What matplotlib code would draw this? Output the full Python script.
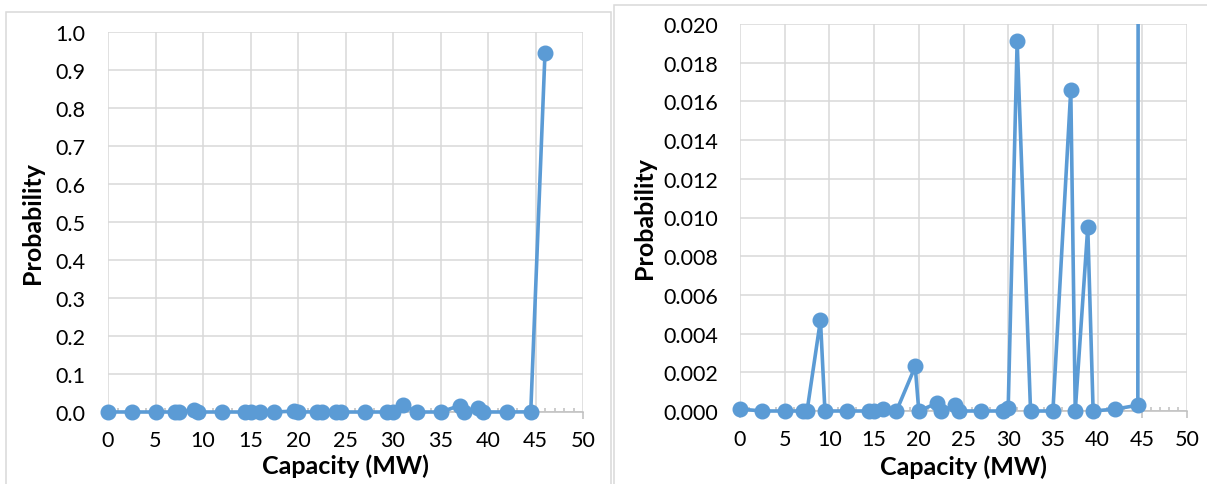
"""Capacity outage probability table, full scale and zoomed."""

import matplotlib

matplotlib.use("Agg")
import matplotlib.pyplot as plt
from matplotlib.patches import Rectangle
from matplotlib.ticker import MultipleLocator, FormatStrFormatter
from matplotlib.transforms import Bbox, TransformedBbox

# capacity states (MW) and their probabilities
capacity = [0, 2.5, 5, 7, 7.5, 9, 9.5, 12, 14.4, 15, 16, 17.5, 19.6, 20, 22, 22.5,
            24, 24.5, 27, 29.4, 30, 31, 32.5, 35, 37, 37.5, 38.9, 39.5, 42, 44.5, 46]
probability = [0.0001, 0.0, 0.0, 0.0, 0.0, 0.0047, 0.0, 0.0, 0.0, 0.0, 0.0001, 0.0,
               0.0023, 0.0, 0.0004, 0.0, 0.0003, 0.0, 0.0, 0.0, 0.00017, 0.0191, 0.0,
               0.0, 0.0166, 0.0, 0.0095, 0.0, 0.0001, 0.0003, 0.9455]

x_ticks = [0, 5, 10, 15, 20, 25, 30, 35, 40, 45, 50]
left_yticks = [0.0, 0.1, 0.2, 0.3, 0.4, 0.5, 0.6, 0.7, 0.8, 0.9, 1.0]
right_yticks = [0.000, 0.002, 0.004, 0.006, 0.008, 0.010, 0.012, 0.014, 0.016, 0.018, 0.020]

BLUE = "#5B9BD5"
GRID = "#D9D9D9"
AXIS = "#BFBFBF"
W, H = 1207, 485

plt.rcParams["font.family"] = ["Lato", "DejaVu Sans"]

fig = plt.figure(figsize=(W / 100, H / 100), dpi=100)


def px_axes(x0, x1, top, bottom):
    return fig.add_axes([x0 / W, (H - bottom) / H, (x1 - x0) / W, (bottom - top) / H])


def style(ax, yticks, fmt, ylabel_x, xlabel_y):
    ax.set_xlim(0, 50)
    ax.set_ylim(yticks[0], yticks[-1])
    ax.set_xticks(x_ticks)
    ax.set_yticks(yticks)
    ax.yaxis.set_major_formatter(FormatStrFormatter(fmt))
    ax.xaxis.set_minor_locator(MultipleLocator(1))
    ax.set_axisbelow(True)
    ax.grid(True, color=GRID, lw=1.1)
    for side in ("top", "right", "left"):
        ax.spines[side].set_visible(False)
    ax.spines["bottom"].set_color(AXIS)
    ax.spines["bottom"].set_linewidth(1.1)
    ax.tick_params(axis="y", length=0, pad=16, labelsize=15.5, labelcolor="black")
    ax.tick_params(axis="x", which="major", direction="out", length=5, width=1.1,
                   color=AXIS, pad=8, labelsize=15.5)
    ax.tick_params(axis="x", which="minor", direction="in", length=3, width=1.1, color=AXIS)
    ax.set_xlabel("Capacity (MW)", fontsize=18, fontweight="bold")
    ax.set_ylabel("Probability", fontsize=18, fontweight="bold")
    ax.xaxis.set_label_coords(0.5, xlabel_y)
    ax.yaxis.set_label_coords(ylabel_x, 0.5)


def draw_series(ax):
    line, = ax.plot(capacity, probability, color=BLUE, lw=2.6, marker="o",
                    markersize=10.5, zorder=3)
    # let markers at zero show in full, but keep the top edge clipped
    line.set_clip_box(TransformedBbox(Bbox([[-0.05, -0.1], [1.05, 1.0]]), ax.transAxes))


ax_l = px_axes(108, 583, 33, 413)
style(ax_l, left_yticks, "%.1f", -0.135, -0.11)
draw_series(ax_l)

ax_r = px_axes(740, 1187, 25, 412)
style(ax_r, right_yticks, "%.3f", -0.188, -0.111)
draw_series(ax_r)

# chart area borders
fig.patches.append(Rectangle((6 / W, -0.1), (611 - 6) / W, (H - 13) / H + 0.1,
                             transform=fig.transFigure, fill=False, ec=GRID, lw=1.1))
fig.patches.append(Rectangle((614 / W, -0.1), 0.5, (H - 6) / H + 0.1,
                             transform=fig.transFigure, fill=False, ec=GRID, lw=1.1))

fig.savefig("out.png", dpi=100)
